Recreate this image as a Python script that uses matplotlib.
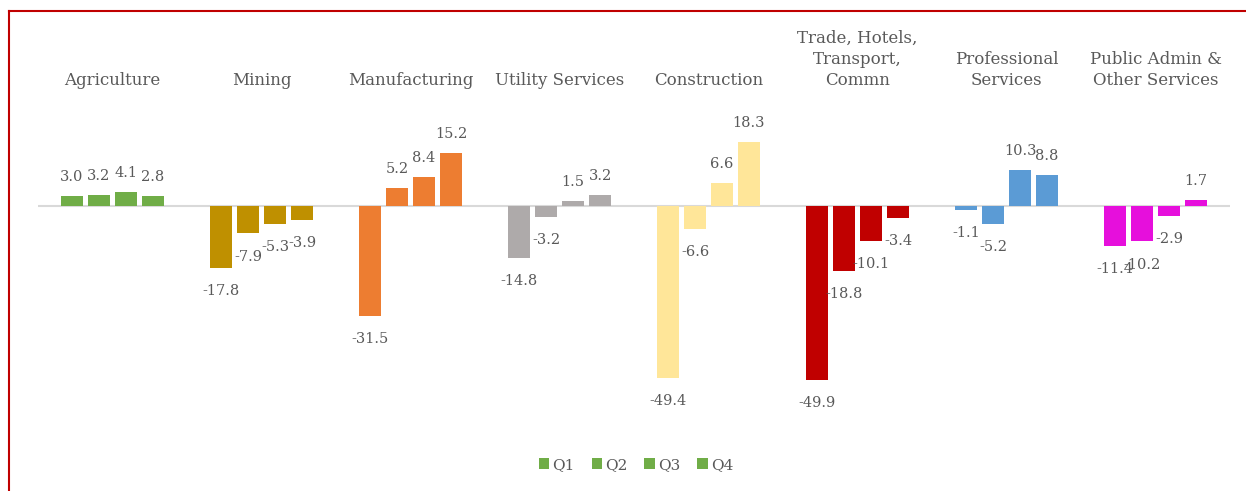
import numpy as np
import matplotlib
matplotlib.use("Agg")
import matplotlib.pyplot as plt
from matplotlib.lines import Line2D

# sectors and quarterly growth values (%)
sectors = ["Agriculture", "Mining", "Manufacturing", "Utility Services",
           "Construction", "Trade, Hotels,\nTransport,\nCommn",
           "Professional\nServices", "Public Admin &\nOther Services"]
quarters = ["Q1", "Q2", "Q3", "Q4"]
q1 = [3.0, -17.8, -31.5, -14.8, -49.4, -49.9, -1.1, -11.4]
q2 = [3.2, -7.9, 5.2, -3.2, -6.6, -18.8, -5.2, -10.2]
q3 = [4.1, -5.3, 8.4, 1.5, 6.6, -10.1, 10.3, -2.9]
q4 = [2.8, -3.9, 15.2, 3.2, 18.3, -3.4, 8.8, 1.7]
sector_colors = ["#70AD47", "#BF9000", "#ED7D31", "#AEAAAA",
                 "#FFE699", "#C00000", "#5B9BD5", "#E60FDC"]

txt = "#595959"
plt.rcParams['font.family'] = ['DejaVu Serif']

W, H = 1246, 491
fig = plt.figure(figsize=(W / 100, H / 100), dpi=100)

# pixel layout
zero_px, scale = 206, 3.48
top_px, bot_px = 20, 430
left_px, right_px = 38, 1230
ax = fig.add_axes([left_px / W, (H - bot_px) / H,
                   (right_px - left_px) / W, (bot_px - top_px) / H])
ax.set_xlim(-0.5, 7.5)
ax.set_ylim(-(bot_px - zero_px) / scale, (zero_px - top_px) / scale)
ax.axis("off")

x = np.arange(len(sectors))
step, width = 27 / 149, 22 / 149
series = [q1, q2, q3, q4]
for k, vals in enumerate(series):
    xs = x + (k - 1.5) * step
    ax.bar(xs, vals, width=width, color=sector_colors, label=quarters[k], zorder=2)
    for xi, v in zip(xs, vals):
        if v >= 0:
            ax.annotate(f"{v:.1f}", (xi, v), xytext=(0, 13.7), textcoords="offset points",
                        ha="center", va="center", fontsize=10.5, color=txt)
        else:
            ax.annotate(f"{v:.1f}", (xi, v), xytext=(0, -16.6), textcoords="offset points",
                        ha="center", va="center", fontsize=10.5, color=txt)

ax.axhline(0, color="#D9D9D9", lw=1.5, zorder=1)

# category names above the plot
for xi, name in zip(x, sectors):
    ax.text(xi, (zero_px - 89) / scale, name, ha="center", va="bottom",
            fontsize=12, color=txt, linespacing=1.3)

leg = ax.legend(loc="center", ncol=4, frameon=False, fontsize=11,
                handlelength=0.7, handleheight=0.7, handletextpad=0.2,
                columnspacing=1.1, labelcolor=txt)
leg.set_bbox_to_anchor(((636 - left_px) / (right_px - left_px), (bot_px - 465) / (bot_px - top_px)),
                       transform=ax.transAxes)

# red frame (top and left edges)
red = "#C00000"
fig.add_artist(Line2D([9 / W, 9 / W], [0, 1 - 11 / H], color=red, lw=1.5,
                      transform=fig.transFigure))
fig.add_artist(Line2D([9 / W, 1], [1 - 11 / H, 1 - 11 / H], color=red, lw=1.5,
                      transform=fig.transFigure))

fig.savefig("out.png", dpi=100)
